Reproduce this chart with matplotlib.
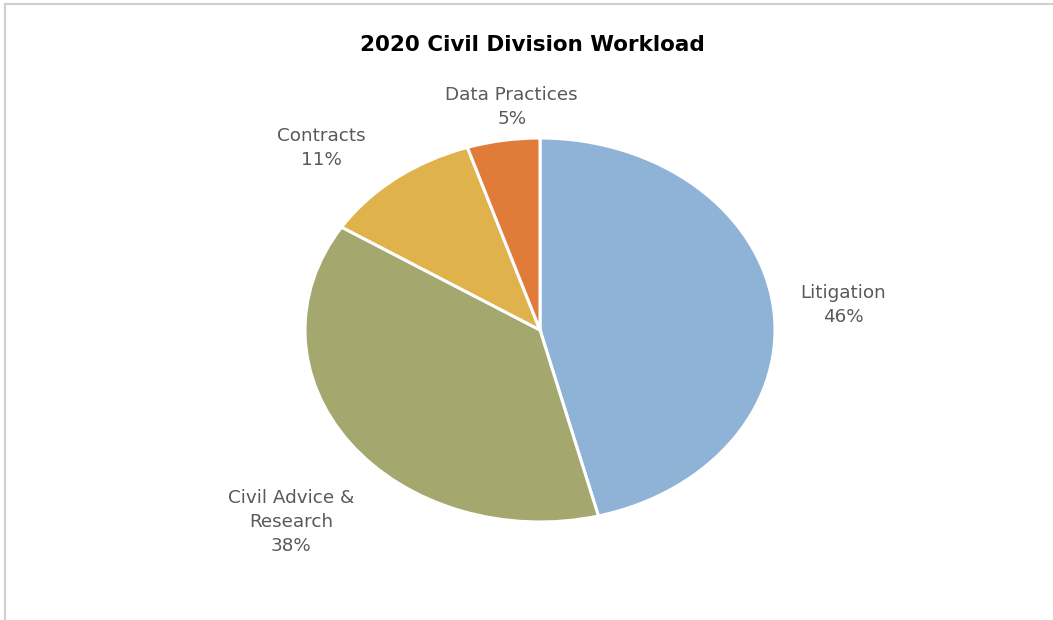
import matplotlib
matplotlib.use('Agg')
from matplotlib import pyplot as plt
from matplotlib.lines import Line2D

plt.rcParams['font.family'] = ['DejaVu Sans']

# 2020 workload shares by practice area
categories = ['Litigation', 'Civil Advice &\nResearch', 'Contracts', 'Data Practices']
shares = [46, 38, 11, 5]
colors = ['#8FB3D6', '#A4A86F', '#DFB24C', '#E07B3A']
# label anchor points (axes data units, pie radius = 1)
label_xy = [(1.29, 0.13), (-1.06, -1.0), (-0.93, 0.95), (-0.12, 1.16)]

fig = plt.figure(figsize=(10.53, 6.2), dpi=100)
ax = fig.add_axes([0, 0, 1, 1])

wedges, _ = ax.pie(shares, colors=colors, startangle=90, counterclock=False,
                   wedgeprops={'edgecolor': 'white', 'linewidth': 2.2})

for name, val, (x, y) in zip(categories, shares, label_xy):
    ax.text(x, y, f'{name}\n{val}%', ha='center', va='center', fontsize=13.2,
            color='#595959', linespacing=1.42)

# stretch the pie horizontally: 235 px wide radius vs 192 px tall
ax.set_aspect('auto')
ax.set_xlim(-540 / 235, (1053 - 540) / 235)
ax.set_ylim(-290 / 192, 330 / 192)
ax.axis('off')

fig.text(0.506, 0.927, '2020 Civil Division Workload', ha='center', va='center',
         fontsize=15.5, fontweight='bold', color='black')

# light chart frame on the top and left edges
fig.add_artist(Line2D([0.005, 0.005], [0.0, 0.993], color='#D0D0D0', lw=1.5))
fig.add_artist(Line2D([0.005, 1.0], [0.993, 0.993], color='#D0D0D0', lw=1.5))

fig.savefig('out.png', dpi=100, facecolor='white')
